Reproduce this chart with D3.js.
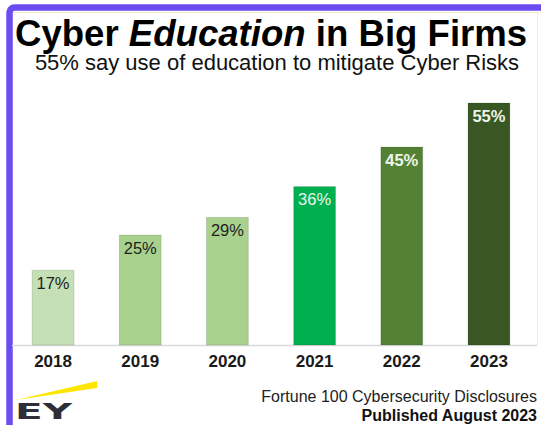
<!DOCTYPE html>
<html>
<head>
<meta charset="utf-8">
<script src="https://cdn.jsdelivr.net/npm/d3@7"></script>
<style>
  html, body { margin: 0; padding: 0; background: #ffffff; }
  svg { display: block; font-family: "Liberation Sans", Arial, sans-serif; }
</style>
</head>
<body>
<svg id="chart" width="541" height="425"></svg>
<script>
// ---- data ----
const years = ["2018", "2019", "2020", "2021", "2022", "2023"];
const shares = [17, 25, 29, 36, 45, 55];
const valueLabels = ["17%", "25%", "29%", "36%", "45%", "55%"];
const titleParts = ["Cyber ", "Education", " in Big Firms"];
const subtitle = "55% say use of education to mitigate Cyber Risks";
const sourceLine = "Fortune 100 Cybersecurity Disclosures";
const publishedLine = "Published August 2023";

// ---- styles ----
const barColors = ["#c5e0b4", "#a9d18e", "#a9d18e", "#00b050", "#548235", "#385723"];
const labelColors = ["#1e1e1e", "#1e1e1e", "#1e1e1e", "#eef5ea", "#eef5ea", "#eef5ea"];
const labelWeights = ["normal", "normal", "normal", "normal", "bold", "bold"];

const W = 541, H = 425;
const svg = d3.select("#chart");

// frame
svg.append("rect").attr("x", 0).attr("y", 0).attr("width", W).attr("height", H).attr("fill", "#fff");
svg.append("line").attr("x1", 12).attr("x2", W).attr("y1", 12.5).attr("y2", 12.5)
  .attr("stroke", "#f3efcf").attr("stroke-width", 1);
svg.append("line").attr("x1", 537.5).attr("x2", 537.5).attr("y1", 12).attr("y2", 345)
  .attr("stroke", "#ececec").attr("stroke-width", 1);
svg.append("rect").attr("x", 9.5).attr("y", 7.5).attr("width", 700).attr("height", 600)
  .attr("rx", 5).attr("fill", "none").attr("stroke", "#6a4cf2").attr("stroke-width", 6.5);

// scales
const x = d3.scaleBand().domain(years).range([9.45, 532.55]).paddingInner(0.52).paddingOuter(0.26);
const y = d3.scaleLinear().domain([0, 55]).range([345, 103]);

// title
const title = svg.append("text").attr("x", 15).attr("y", 46)
  .attr("font-size", 36.6).attr("font-weight", "bold").attr("fill", "#000");
title.selectAll("tspan").data(titleParts).join("tspan")
  .attr("font-style", (d, i) => i === 1 ? "italic" : "normal")
  .text(d => d);

svg.append("text").attr("x", 277).attr("y", 70).attr("text-anchor", "middle")
  .attr("font-size", 22).attr("fill", "#111").text(subtitle);

// baseline
svg.append("line").attr("x1", 12).attr("x2", 537).attr("y1", 345.5).attr("y2", 345.5)
  .attr("stroke", "#d9d9d9").attr("stroke-width", 1.5);

const rows = years.map((yr, i) => ({ yr, v: shares[i], lab: valueLabels[i], i }));

// bars
svg.append("g").selectAll("rect").data(rows).join("rect")
  .attr("x", d => x(d.yr))
  .attr("y", d => y(d.v))
  .attr("width", x.bandwidth())
  .attr("height", d => y(0) - y(d.v))
  .attr("fill", d => barColors[d.i])
  .attr("stroke", "rgba(0,0,0,0.12)").attr("stroke-width", 1);

// value labels
svg.append("g").selectAll("text").data(rows).join("text")
  .attr("x", d => x(d.yr) + x.bandwidth() / 2)
  .attr("y", d => y(d.v) + 18.5)
  .attr("text-anchor", "middle")
  .attr("font-size", 16.5)
  .attr("font-weight", d => labelWeights[d.i])
  .attr("fill", d => labelColors[d.i])
  .text(d => d.lab);

// axis
const axis = svg.append("g").attr("transform", "translate(0,345)")
  .call(d3.axisBottom(x).tickSize(0).tickPadding(10));
axis.select(".domain").remove();
axis.selectAll("text").attr("font-size", 17).attr("font-weight", "bold")
  .attr("fill", "#1a1a1a").attr("font-family", "Liberation Sans, Arial, sans-serif");

// footer
svg.append("text").attr("x", 537).attr("y", 402).attr("text-anchor", "end")
  .attr("font-size", 16).attr("fill", "#222").text(sourceLine);
svg.append("text").attr("x", 537).attr("y", 421).attr("text-anchor", "end")
  .attr("font-size", 16).attr("font-weight", "bold").attr("fill", "#111").text(publishedLine);

// EY logo
svg.append("path")
  .attr("d", "M16,400 L97,381 L97,388 Z")
  .attr("fill", "#ffe600");
svg.append("text").attr("x", 15).attr("y", 419)
  .attr("font-size", 22).attr("font-weight", "bold").attr("fill", "#2e2e38")
  .attr("font-family", "DejaVu Sans, sans-serif")
  .attr("textLength", 57).attr("lengthAdjust", "spacingAndGlyphs")
  .text("EY");
</script>
</body>
</html>
